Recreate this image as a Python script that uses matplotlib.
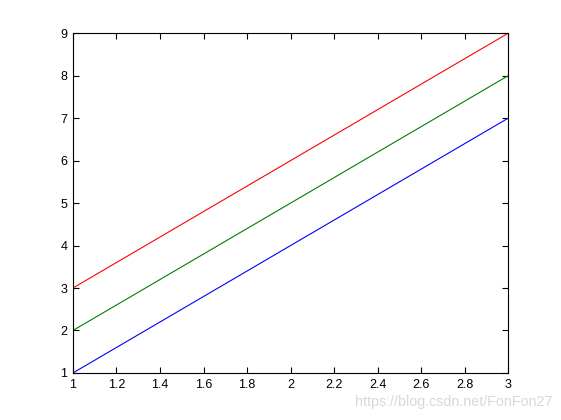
import matplotlib
matplotlib.use("Agg")
import matplotlib.pyplot as plt

x = [1, 2, 3]
y_blue = [1, 4, 7]
y_green = [2, 5, 8]
y_red = [3, 6, 9]

plt.rcParams['font.family'] = ['Liberation Sans', 'DejaVu Sans']

fig = plt.figure(figsize=(5.61, 4.2), dpi=100)
ax = fig.add_axes([0.13, 0.112, 0.776, 0.809])
ax.plot(x, y_blue, color='#0000ff', lw=0.8)
ax.plot(x, y_green, color='#007f00', lw=0.8)
ax.plot(x, y_red, color='#ff0000', lw=0.8)
ax.set_xlim(1, 3)
ax.set_ylim(1, 9)
ax.set_xticks([1, 1.2, 1.4, 1.6, 1.8, 2, 2.2, 2.4, 2.6, 2.8, 3])
ax.set_xticklabels(['1', '1.2', '1.4', '1.6', '1.8', '2', '2.2', '2.4', '2.6', '2.8', '3'])
ax.set_yticks(range(1, 10))
ax.tick_params(direction='in', top=True, right=True, length=4, width=0.8, labelsize=9, pad=4)
for s in ax.spines.values():
    s.set_linewidth(0.8)

fig.text(0.985, 0.043, 'https://blog.csdn.net/FonFon27', ha='right', va='center',
         color='#d8d8d8', fontsize=10.3)

fig.savefig('out.png', dpi=100)
